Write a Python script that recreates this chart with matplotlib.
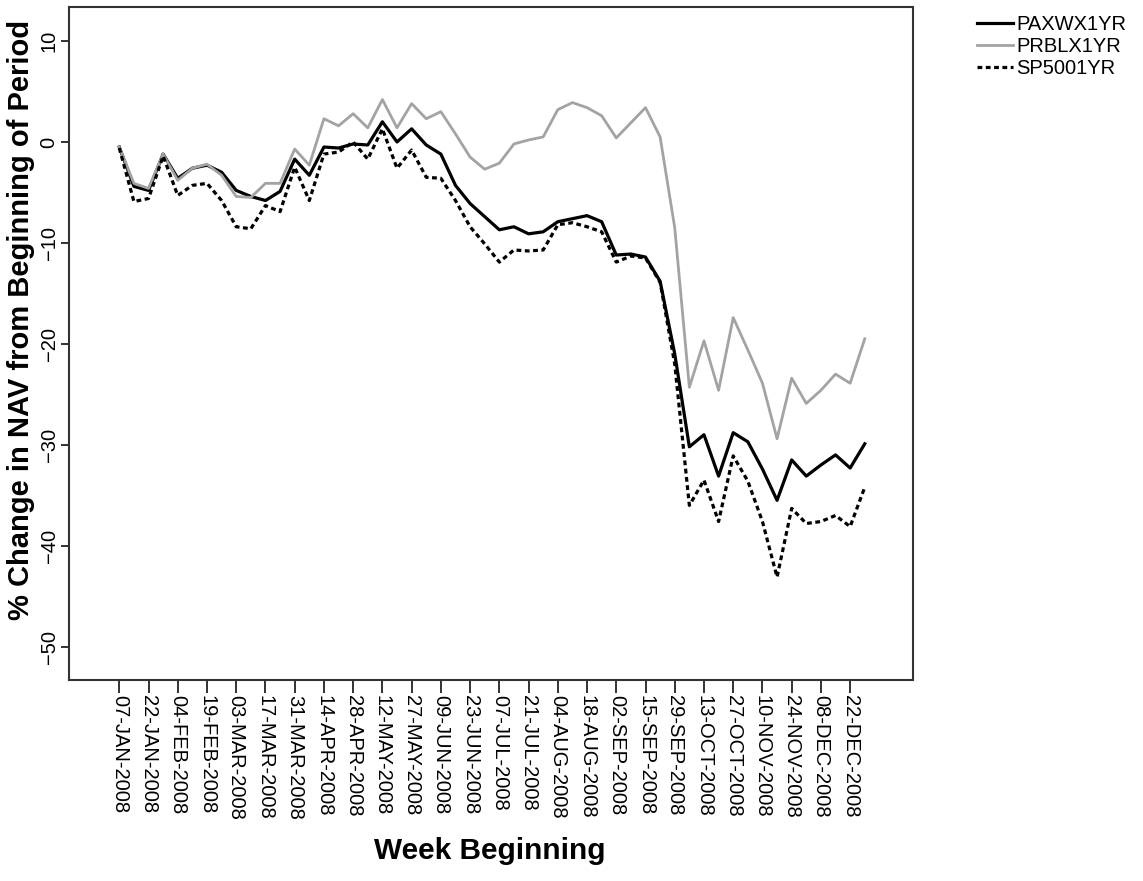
import matplotlib
matplotlib.use("Agg")
import matplotlib.pyplot as plt
import numpy as np

plt.rcParams['font.family'] = ['Liberation Sans', 'DejaVu Sans']

weeks = [
    "07-JAN-2008", "14-JAN-2008", "22-JAN-2008", "28-JAN-2008", "04-FEB-2008",
    "11-FEB-2008", "19-FEB-2008", "25-FEB-2008", "03-MAR-2008", "10-MAR-2008",
    "17-MAR-2008", "24-MAR-2008", "31-MAR-2008", "07-APR-2008", "14-APR-2008",
    "21-APR-2008", "28-APR-2008", "05-MAY-2008", "12-MAY-2008", "19-MAY-2008",
    "27-MAY-2008", "02-JUN-2008", "09-JUN-2008", "16-JUN-2008", "23-JUN-2008",
    "30-JUN-2008", "07-JUL-2008", "14-JUL-2008", "21-JUL-2008", "28-JUL-2008",
    "04-AUG-2008", "11-AUG-2008", "18-AUG-2008", "25-AUG-2008", "02-SEP-2008",
    "08-SEP-2008", "15-SEP-2008", "22-SEP-2008", "29-SEP-2008", "06-OCT-2008",
    "13-OCT-2008", "20-OCT-2008", "27-OCT-2008", "03-NOV-2008", "10-NOV-2008",
    "17-NOV-2008", "24-NOV-2008", "01-DEC-2008", "08-DEC-2008", "15-DEC-2008",
    "22-DEC-2008", "29-DEC-2008",
]

paxwx = [-0.5, -4.4, -4.8, -1.2, -3.6, -2.6, -2.3, -3.0, -4.8, -5.4,
         -5.8, -4.9, -1.7, -3.3, -0.5, -0.6, -0.2, -0.3, 2.0, 0.0,
         1.3, -0.3, -1.2, -4.3, -6.1, -7.4, -8.7, -8.4, -9.1, -8.9,
         -7.9, -7.6, -7.3, -7.9, -11.2, -11.1, -11.4, -13.8, -21.0, -30.2,
         -29.0, -33.1, -28.8, -29.7, -32.4, -35.5, -31.5, -33.1, -32.0, -31.0,
         -32.3, -29.9]

prblx = [-0.5, -4.1, -4.6, -1.2, -3.8, -2.6, -2.2, -3.3, -5.4, -5.5,
         -4.1, -4.1, -0.7, -2.3, 2.3, 1.6, 2.8, 1.4, 4.2, 1.4,
         3.8, 2.3, 3.0, 0.8, -1.5, -2.7, -2.1, -0.2, 0.2, 0.5,
         3.2, 3.9, 3.4, 2.6, 0.4, 1.9, 3.4, 0.5, -8.5, -24.3,
         -19.7, -24.6, -17.4, -20.6, -23.9, -29.4, -23.4, -25.9, -24.6, -23.0,
         -23.9, -19.5]

sp500 = [-0.6, -5.9, -5.6, -1.4, -5.3, -4.3, -4.1, -5.8, -8.4, -8.6,
         -6.3, -6.9, -2.5, -5.8, -1.2, -1.0, 0.0, -1.7, 1.3, -2.6,
         -0.8, -3.5, -3.6, -5.8, -8.4, -10.1, -11.9, -10.7, -10.8, -10.7,
         -8.2, -8.0, -8.4, -8.9, -11.9, -11.3, -11.5, -13.9, -22.0, -36.0,
         -33.5, -37.6, -31.1, -33.6, -37.6, -43.1, -36.3, -37.8, -37.6, -37.0,
         -38.1, -34.2]

x = np.arange(len(weeks))

fig = plt.figure(figsize=(11.43, 8.81), dpi=100)
ax = fig.add_axes([69 / 1143, 1 - 680 / 881, 844 / 1143, 673.3 / 881])

ax.plot(x, paxwx, color="black", lw=2.3, label="PAXWX1YR")
ax.plot(x, prblx, color="#a3a3a3", lw=2.0, label="PRBLX1YR")
ax.plot(x, sp500, color="black", lw=2.3, linestyle=(0, (1.5, 1.1)), label="SP5001YR")

ax.set_xlim(-3.44, 54.3)
ax.set_ylim(-53.3, 13.4)
ax.set_yticks([10, 0, -10, -20, -30, -40, -50])
ax.set_xticks(x[::2], weeks[::2], rotation=-90)

for lab in ax.get_yticklabels():
    lab.set_rotation(90)
    lab.set_va("center")

ax.tick_params(axis="x", length=9, width=1.3, pad=2, labelsize=14.5, color="#222222")
ax.tick_params(axis="y", length=6, width=1.3, pad=1.5, labelsize=14.5, color="#222222")

for s in ax.spines.values():
    s.set_color("#333333")
    s.set_linewidth(1.5)

fig.text(21 / 1143, 1 - 320 / 881, "% Change in NAV from Beginning of Period",
         rotation=90, ha="center", va="center", fontsize=21, fontweight="bold")
fig.text(490 / 1143, 1 - 851 / 881, "Week Beginning",
         ha="center", va="center", fontsize=21.4, fontweight="bold")

fig.legend(loc="upper left", bbox_to_anchor=(977 / 1143, 1 - 15 / 881),
           frameon=False, fontsize=14.5, handlelength=1.8, handletextpad=0.15,
           labelspacing=0.15, borderpad=0, borderaxespad=0)

fig.savefig("out.png", dpi=100)
